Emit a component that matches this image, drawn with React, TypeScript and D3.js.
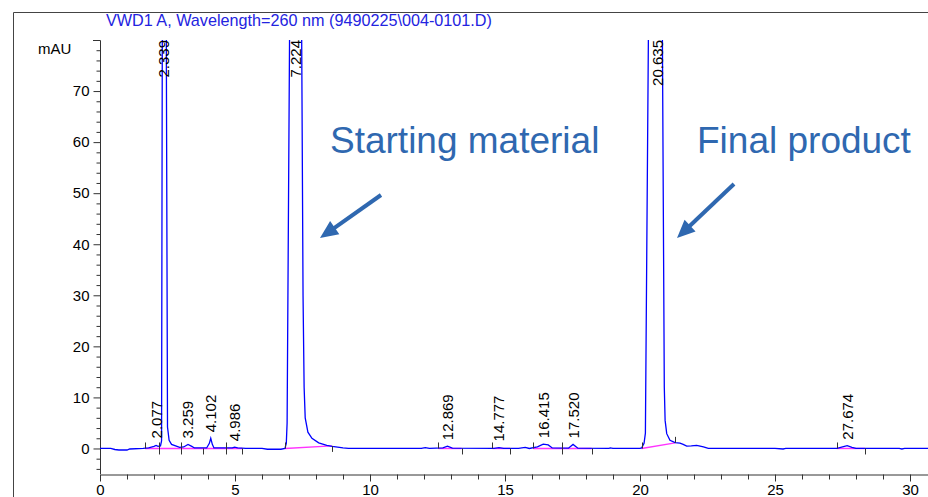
import { useEffect, useRef } from 'react'
import * as d3 from 'd3'

// chromatogram trace: [time (min), signal (mAU)]
const trace: [number, number][] = [
  [0, 0], [0.4, 0], [0.55, -0.2], [0.7, -0.3], [1.0, -0.3], [1.1, -0.1], [1.6, 0], [1.8, 0.1],
  [2.0, 0.4], [2.077, 0.6], [2.15, 0.4], [2.24, 0.5], [2.28, 1.5], [2.307, 80], [2.38, 140],
  [2.456, 80], [2.5, 4.2], [2.56, 1.6], [2.65, 0.8], [2.8, 0.5], [2.95, 0.2], [3.1, 0.3],
  [3.259, 0.8], [3.4, 0.4], [3.5, 0.1], [3.95, 0.1], [4.05, 1.0], [4.102, 2.0], [4.16, 0.8],
  [4.22, 0.1], [4.9, 0.1], [4.986, 0.25], [5.1, 0.1], [5.4, 0], [6.0, 0], [6.2, -0.15],
  [6.7, -0.15], [6.85, 0], [6.9, 1], [6.93, 5], [7.02, 80], [7.2, 160], [7.47, 80], [7.52, 30],
  [7.56, 12], [7.6, 6], [7.7, 3.2], [7.85, 2.0], [8.1, 1.1], [8.4, 0.6], [8.6, 0.4], [9.0, 0.1],
  [9.2, 0], [11.9, 0], [12.05, 0.15], [12.2, 0], [12.7, 0.1], [12.869, 0.45], [13.05, 0.05],
  [14.6, 0], [14.777, 0.15], [14.95, 0], [15.5, 0], [15.75, 0.2], [15.9, 0], [16.2, 0.3],
  [16.415, 0.85], [16.6, 0.7], [16.75, 0.1], [17.35, 0.05], [17.52, 0.8], [17.7, 0.05],
  [18.85, 0], [18.9, 0.1], [19.0, 0], [20.0, 0], [20.06, 0.1], [20.15, 1.0], [20.2, 3],
  [20.31, 80], [20.5, 150], [20.83, 80], [20.9, 12], [20.93, 5.5], [20.99, 2.9], [21.11, 1.6],
  [21.3, 1.15], [21.48, 1.05], [21.6, 0.8], [21.73, 0.45], [21.9, 0.5], [22.1, 0.6], [22.35, 0.3],
  [22.53, 0], [25.0, 0], [25.3, -0.1], [25.4, 0], [27.3, 0], [27.5, 0.3], [27.674, 0.55],
  [27.85, 0.2], [28.0, 0], [29.6, 0], [29.7, -0.1], [29.8, 0], [30.7, 0],
]

const peakTimes = [2.077, 2.339, 3.259, 4.102, 4.986, 7.224, 12.869, 14.777, 16.415, 17.52, 20.635, 27.674]
const peakHeights = [0.8, 140, 0.8, 2.0, 0.25, 160, 0.45, 0.2, 0.85, 0.8, 150, 0.55]

// integration baselines: [start t, start mAU, end t, end mAU]
const baselines: [number, number, number, number][] = [
  [1.67, 0, 5.27, 0], [6.85, 0, 8.58, 0.5], [12.53, 0, 13.39, 0], [14.53, 0, 15.19, 0],
  [16.05, 0, 18.21, 0], [20.06, 0, 21.3, 1.1], [27.28, 0, 28.33, 0],
]

// integration event marks: [t, mAU, direction] 1 = up, -1 = down, 0 = both
const events: [number, number, number][] = [
  [1.67, 0, 1], [2.19, 0, 0], [2.99, 0, 0], [3.8, 0, -1], [4.65, 0, 0], [5.27, 0, -1],
  [6.85, 0, 1], [8.58, 0.5, -1], [12.53, 0, 1], [13.39, 0, -1], [14.53, 0, 1], [15.19, 0, -1],
  [16.05, 0, 1], [17.12, 0, 0], [18.21, 0, -1], [20.06, 0, 1], [21.3, 1.1, 1], [27.28, 0, 1],
  [28.33, 0, -1],
]

const xTicks = [0, 5, 10, 15, 20, 25, 30]
const xMinor = [1, 2, 3, 4, 6, 7, 8, 9, 11, 12, 13, 14, 16, 17, 18, 19, 21, 22, 23, 24, 26, 27, 28, 29]
const yTicks = [0, 10, 20, 30, 40, 50, 60, 70]
const yMinor = [-4, -2, 2, 4, 6, 8, 12, 14, 16, 18, 22, 24, 26, 28, 32, 34, 36, 38, 42, 44, 46, 48, 52, 54, 56, 58, 62, 64, 66, 68, 72, 74, 76, 78]

const title = 'VWD1 A, Wavelength=260 nm (9490225\\004-0101.D)'
const notes = [
  { text: 'Starting material', x: 330, y: 153, from: [381, 195], to: [320, 238] },
  { text: 'Final product', x: 697, y: 153, from: [734, 184], to: [677, 238] },
]

const FONT = '"Liberation Sans", Arial, sans-serif'
const W = 928
const H = 497

export default function App() {
  const ref = useRef<SVGSVGElement>(null)

  useEffect(() => {
    if (!ref.current) return
    const svg = d3.select(ref.current)
    svg.selectAll('*').remove()

    const x = d3.scaleLinear().domain([0, 828 / 27]).range([100, W])
    const y = d3.scaleLinear().domain([-5, 80]).range([474, 40])
    const axisColor = '#333'

    // frame
    svg.append('path')
      .attr('d', `M13.5,${H + 2}V12.5H${W + 2}`)
      .attr('fill', 'none').attr('stroke', '#444').attr('stroke-width', 1)

    svg.append('text')
      .attr('x', 106).attr('y', 25.5)
      .style('font-family', FONT).style('font-size', '16.2px').style('fill', '#2323e0')
      .text(title)

    svg.append('defs').append('clipPath').attr('id', 'plot-clip')
      .append('rect').attr('x', 100).attr('y', 40).attr('width', W - 100).attr('height', 434)

    // y axis
    const yMinorG = svg.append('g').attr('transform', 'translate(100.5,0)')
      .call(d3.axisLeft(y).tickValues(yMinor).tickSize(4).tickFormat(() => ''))
    yMinorG.select('.domain').remove()
    const yG = svg.append('g').attr('transform', 'translate(100.5,0)')
      .call(d3.axisLeft(y).tickValues(yTicks).tickSize(7).tickPadding(4))
    yG.select('.domain').remove()
    svg.append('path')
      .attr('d', `M93,${y(80) + 0.5}H100.5V${y(-5)}`)
      .attr('fill', 'none').attr('stroke', axisColor)
    ;[yMinorG, yG].forEach((g) => g.selectAll('line').attr('stroke', axisColor))
    yG.selectAll('text').style('font-family', FONT).style('font-size', '15px').style('fill', '#000')

    svg.append('text')
      .attr('x', 38).attr('y', 54)
      .style('font-family', FONT).style('font-size', '15px')
      .text('mAU')

    // x axis
    const xMinorG = svg.append('g').attr('transform', 'translate(0,474.5)')
      .call(d3.axisBottom(x).tickValues(xMinor).tickSize(5).tickFormat(() => ''))
    xMinorG.select('.domain').remove()
    const xG = svg.append('g').attr('transform', 'translate(0,474.5)')
      .call(d3.axisBottom(x).tickValues(xTicks).tickSize(7).tickSizeOuter(0).tickPadding(3))
    xG.select('.domain').attr('stroke', axisColor)
    ;[xMinorG, xG].forEach((g) => g.selectAll('line').attr('stroke', axisColor))
    xG.selectAll('text').style('font-family', FONT).style('font-size', '15px').style('fill', '#000')

    const plot = svg.append('g').attr('clip-path', 'url(#plot-clip)')

    // integration baselines
    plot.append('g').selectAll('line').data(baselines).join('line')
      .attr('x1', (d) => x(d[0])).attr('y1', (d) => y(d[1]))
      .attr('x2', (d) => x(d[2])).attr('y2', (d) => y(d[3]))
      .attr('stroke', '#ff33ff').attr('stroke-width', 1.4)

    // trace
    plot.append('path')
      .datum(trace)
      .attr('d', d3.line<[number, number]>().x((d) => x(d[0])).y((d) => y(d[1])))
      .attr('fill', 'none').attr('stroke', '#0000ff').attr('stroke-width', 1.3)

    // event marks
    plot.append('g').selectAll('line').data(events).join('line')
      .attr('x1', (d) => Math.round(x(d[0])) + 0.5).attr('x2', (d) => Math.round(x(d[0])) + 0.5)
      .attr('y1', (d) => y(d[1]) - (d[2] >= 0 ? 6 : 0))
      .attr('y2', (d) => y(d[1]) + (d[2] <= 0 ? 6 : 0))
      .attr('stroke', '#333').attr('stroke-width', 1)

    // retention time labels
    svg.append('g').selectAll('text').data(peakTimes).join('text')
      .attr('transform', (t, i) => {
        const top = peakHeights[i] > 80
        const ty = top ? y(80) : y(peakHeights[i]) - 6
        return `translate(${x(t)},${ty}) rotate(-90)`
      })
      .attr('y', 5.5)
      .attr('text-anchor', (t, i) => (peakHeights[i] > 80 ? 'end' : 'start'))
      .style('font-family', FONT).style('font-size', '15px').style('fill', '#000')
      .text((t) => d3.format('.3f')(t))

    // annotations
    const blue = '#2f68b0'
    notes.forEach((n) => {
      svg.append('text')
        .attr('x', n.x).attr('y', n.y)
        .style('font-family', FONT).style('font-size', '37px').style('fill', blue)
        .text(n.text)
      const [x1, y1] = n.from
      const [x2, y2] = n.to
      const len = Math.hypot(x2 - x1, y2 - y1)
      const ux = (x2 - x1) / len
      const uy = (y2 - y1) / len
      const hl = 18
      const hw = 8
      const bx = x2 - ux * hl
      const by = y2 - uy * hl
      svg.append('line')
        .attr('x1', x1).attr('y1', y1).attr('x2', bx + ux * 2).attr('y2', by + uy * 2)
        .attr('stroke', blue).attr('stroke-width', 4)
      svg.append('path')
        .attr('d', `M${x2},${y2}L${bx - uy * hw},${by + ux * hw}L${bx + uy * hw},${by - ux * hw}Z`)
        .attr('fill', blue)
    })
  }, [])

  return (
    <svg
      ref={ref}
      width={W}
      height={H}
      style={{ position: 'absolute', left: 0, top: 0, background: '#fff', display: 'block' }}
    />
  )
}
